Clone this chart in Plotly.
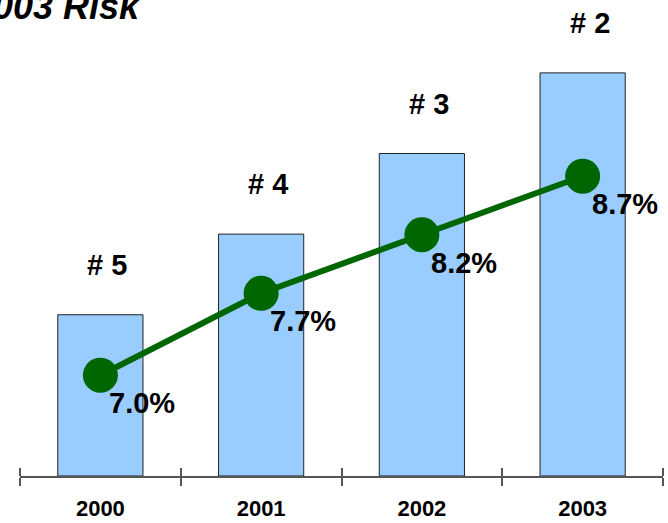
import plotly.graph_objects as go

years = ["2000", "2001", "2002", "2003"]
bar_heights = [2, 3, 4, 5]
ranks = ["# 5", "# 4", "# 3", "# 2"]
risk_pct = [7.0, 7.7, 8.2, 8.7]
risk_labels = ["7.0%", "7.7%", "8.2%", "8.7%"]
title_text = "003 Risk"

FONT = "Liberation Sans"
GREEN = "#006600"

fig = go.Figure()
fig.add_trace(go.Bar(
    x=years, y=bar_heights, width=0.53,
    marker=dict(color="#99CCFF", line=dict(color="#222222", width=1)),
    xaxis="x", yaxis="y", hoverinfo="skip", showlegend=False,
))
fig.add_trace(go.Scatter(
    x=years, y=risk_pct, mode="lines+markers",
    line=dict(color=GREEN, width=6),
    marker=dict(color=GREEN, size=35),
    xaxis="x2", yaxis="y2", showlegend=False,
))

annotations = []
for i, (h, r) in enumerate(zip(bar_heights, ranks)):
    annotations.append(dict(
        x=i, y=h, xref="x", yref="y", text=r, showarrow=False,
        yshift=50, xshift=7,
        font=dict(family=FONT, size=29, color="black", weight="bold"),
    ))
for i, (v, lab) in enumerate(zip(risk_pct, risk_labels)):
    annotations.append(dict(
        x=i, y=v, xref="x2", yref="y2", text=lab, showarrow=False,
        xshift=42, yshift=-28,
        font=dict(family=FONT, size=29, color="black", weight="bold"),
    ))
annotations.append(dict(
    x=-0.045, y=1.008, xref="paper", yref="paper", xanchor="left", yanchor="middle",
    text="<i>" + title_text + "</i>", showarrow=False,
    font=dict(family=FONT, size=36, color="black", weight="bold"),
))

common_x = dict(
    type="category", range=[-0.5, 3.5], tickson="boundaries",
    showgrid=False, zeroline=False, fixedrange=True, automargin=False,
)
fig.update_layout(
    width=668, height=523,
    margin=dict(l=20, r=5, t=10, b=47),
    paper_bgcolor="white", plot_bgcolor="white",
    xaxis=dict(
        **common_x, ticks="outside", ticklen=8, tickwidth=2, tickcolor="#555555",
        showline=True, linecolor="#555555", linewidth=2,
        tickfont=dict(family=FONT, size=22, color="black", weight="bold"),
        ticklabelstandoff=12,
    ),
    xaxis2=dict(
        **common_x, overlaying="x", anchor="free", position=0, side="top",
        ticks="outside", ticklen=8, tickwidth=2, tickcolor="#555555",
        showticklabels=False, showline=False,
    ),
    yaxis=dict(range=[0, 5.78], visible=False, showgrid=False, zeroline=False,
               automargin=False),
    yaxis2=dict(range=[6.139, 10.12], overlaying="y", anchor="free", position=0,
                visible=False, showgrid=False, zeroline=False, automargin=False),
    annotations=annotations,
    font=dict(family=FONT),
)

fig.write_html("out.html", config={"displayModeBar": False},
               post_script="document.body.style.margin='0';")
